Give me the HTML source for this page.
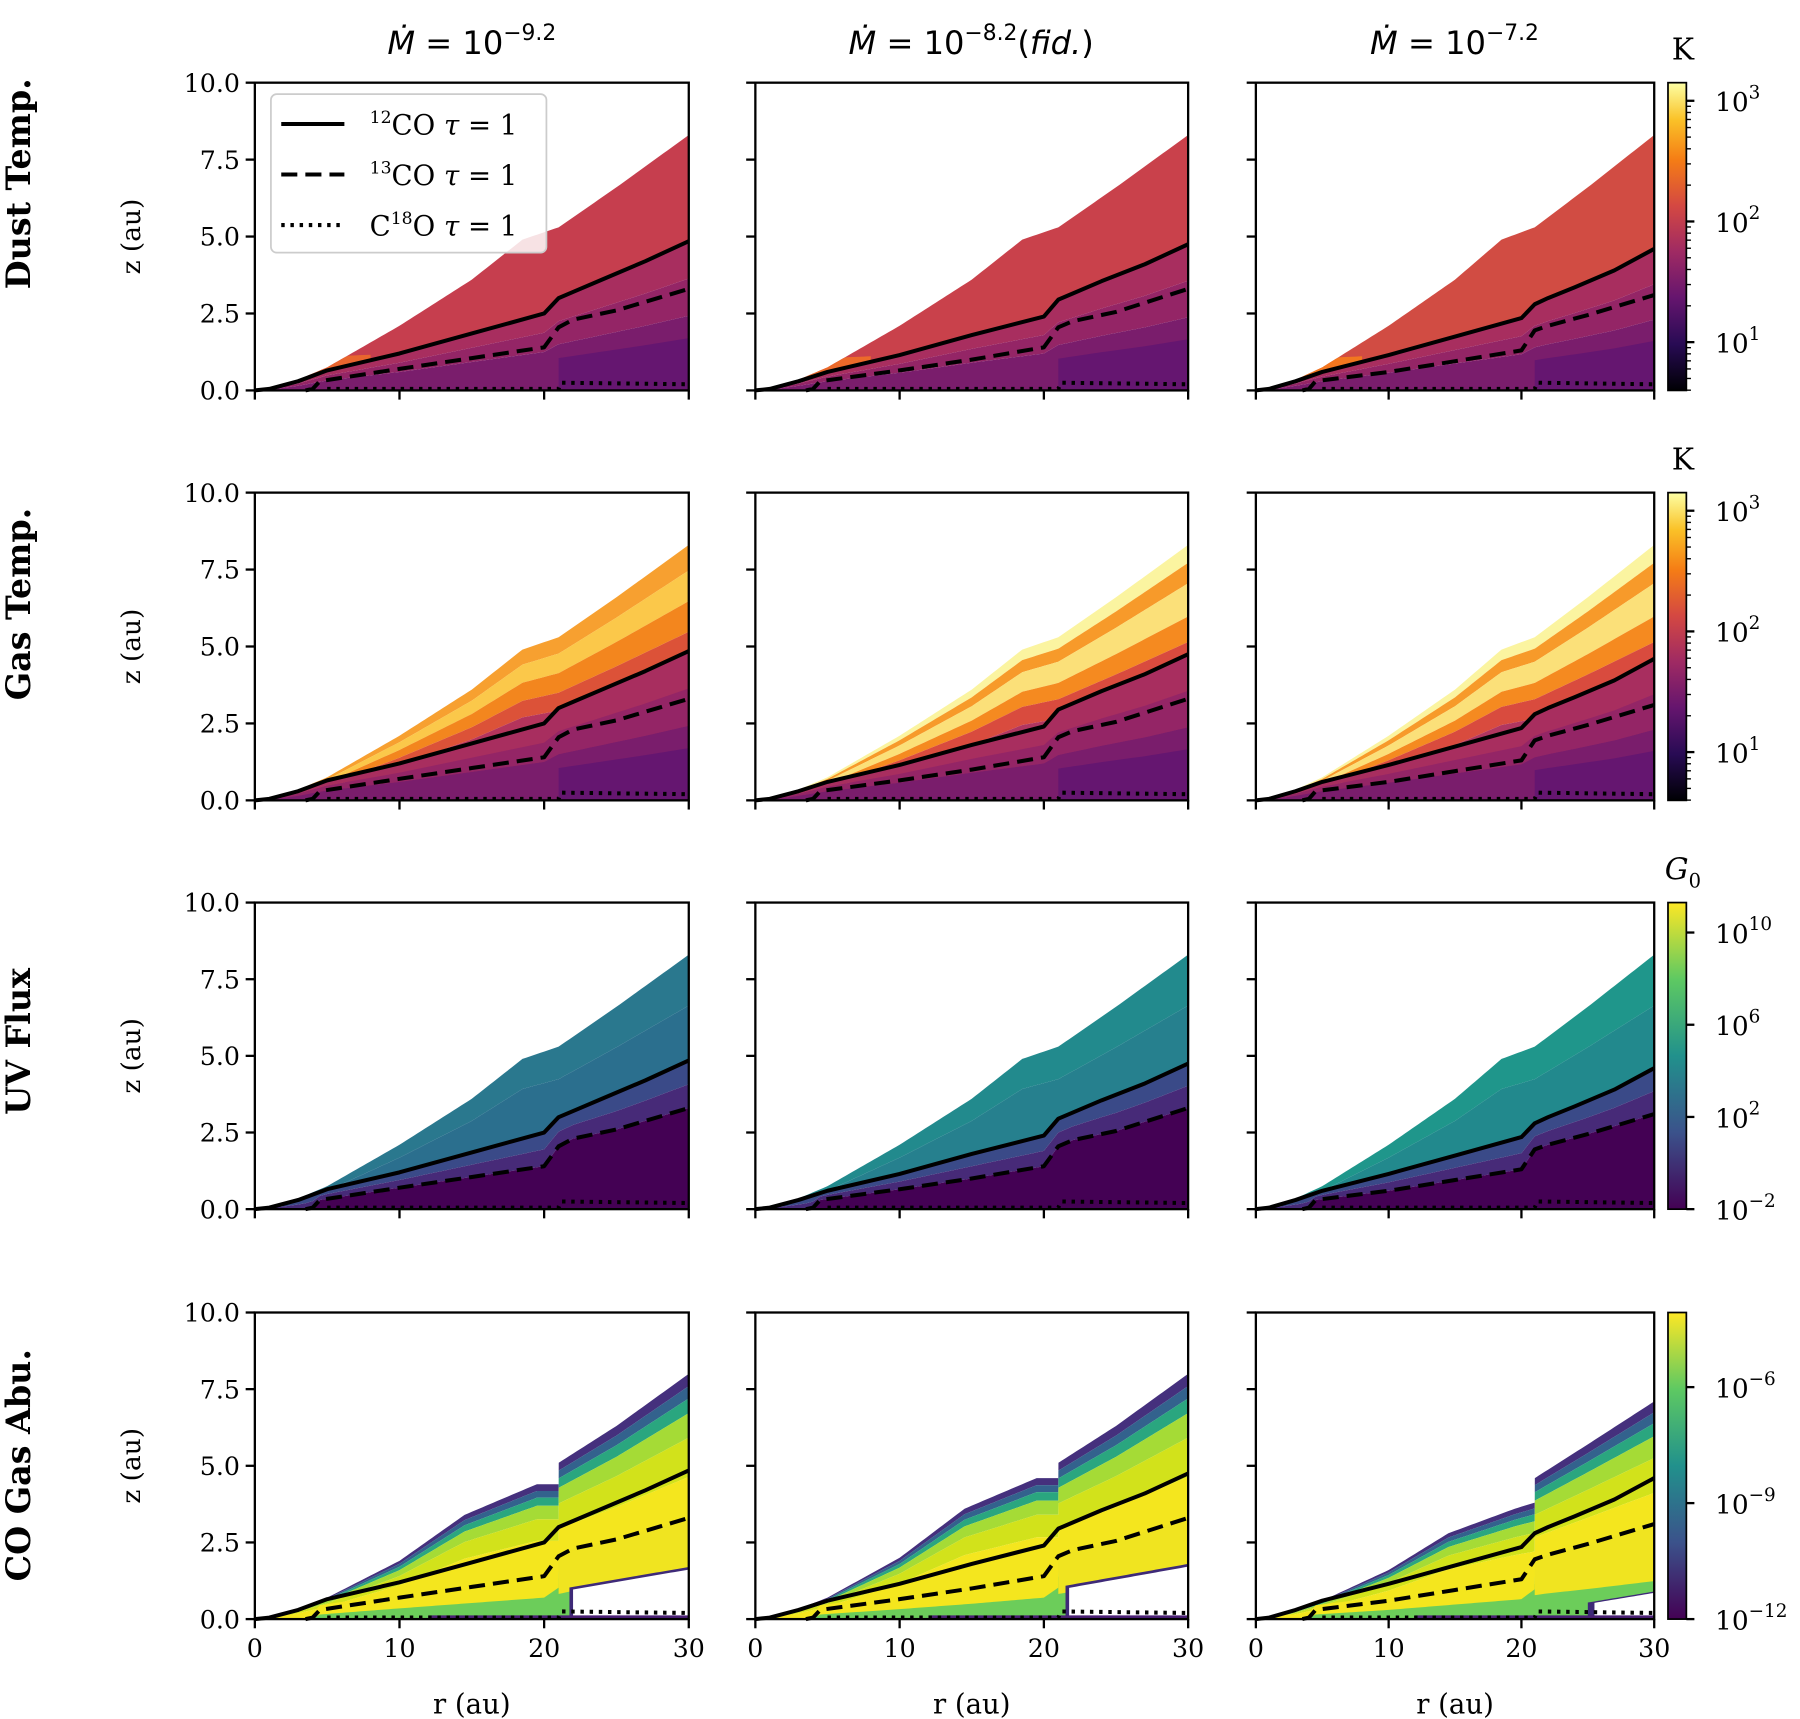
<!DOCTYPE html>
<html><head><meta charset="utf-8"><style>
html,body{margin:0;padding:0;background:#fff;}
svg{display:block;font-family:"DejaVu Serif","Liberation Serif",serif;}
</style></head><body>
<svg id="fig" xmlns="http://www.w3.org/2000/svg" width="1800" height="1719" viewBox="0 0 1568 1497" preserveAspectRatio="none">
<defs>
<linearGradient id="inferno" x1="0" y1="1" x2="0" y2="0">
<stop offset="0" stop-color="#000004"/><stop offset="0.15" stop-color="#280b54"/><stop offset="0.3" stop-color="#65156e"/><stop offset="0.45" stop-color="#9f2a63"/><stop offset="0.6" stop-color="#d44842"/><stop offset="0.75" stop-color="#f57d15"/><stop offset="0.88" stop-color="#fac228"/><stop offset="1" stop-color="#fcffa4"/></linearGradient>
<linearGradient id="viridis" x1="0" y1="1" x2="0" y2="0">
<stop offset="0" stop-color="#440154"/><stop offset="0.25" stop-color="#3b528b"/><stop offset="0.5" stop-color="#21918c"/><stop offset="0.75" stop-color="#5ec962"/><stop offset="1" stop-color="#fde725"/></linearGradient>
</defs>
</svg>
<script>
// ---- data ----
const rTicks=[0,10,20,30];
const zTicks=[0,2.5,5,7.5,10];
const zTickLabels=['0.0','2.5','5.0','7.5','10.0'];
const colTitles=['−9.2','−8.2','−7.2'];
const rowTitles=['Dust Temp.','Gas Temp.','UV Flux','CO Gas Abu.'];
// disk surface (rows 1-3)
const surfR=[0,2,5,10,15,18.5,21,25,30];
const surfZ=[0,0.15,0.75,2.1,3.6,4.9,5.3,6.6,8.3];
// CO abundance surface per column
const coSurfR=[0,2,5,10,14.5,19.5,21,21.01,25,30];
const coSurfZ1=[0,0.15,0.7,1.9,3.4,4.4,4.4,5.1,6.3,8.0];
const coSurfZ2=[0,0.15,0.7,2.0,3.6,4.6,4.6,5.1,6.3,8.0];
const coSurfZ3=[0,0.12,0.6,1.6,2.8,3.6,3.8,4.6,5.7,7.1];
// tau=1 lines per column
const t12R=[0,1,3,5,10,15,20,21,22,24,27,30];
const t12Z1=[0,0.05,0.3,0.65,1.2,1.85,2.5,3.0,3.2,3.6,4.2,4.85];
const t12Z2=[0,0.05,0.3,0.6,1.15,1.8,2.4,2.95,3.15,3.55,4.1,4.75];
const t12Z3=[0,0.05,0.3,0.6,1.15,1.75,2.35,2.8,3.0,3.35,3.9,4.6];
const t13R=[3.5,4,4.5,10,15,20,21,22,25,30];
const t13Z1=[0,0.05,0.3,0.7,1.05,1.4,2.05,2.3,2.6,3.3];
const t13Z2=[0,0.05,0.3,0.65,1.0,1.4,2.05,2.25,2.55,3.3];
const t13Z3=[0,0.05,0.3,0.6,0.95,1.3,1.95,2.1,2.45,3.1];
const c18R=[5,21,21.2,30];
const c18Z=[0.05,0.05,0.25,0.2];
// colorbars
const cbTempTicks=[1,2,3]; const cbTempMin=0.6, cbTempMax=3.15;
const cbUVTicks=[-2,2,6,10]; const cbUVMin=-2, cbUVMax=11.3;
const cbCOTicks=[-12,-9,-6]; const cbCOMin=-12, cbCOMax=-4.07;

// ---- layout ----
const colX=[[222,600],[658,1035],[1094,1441]];
const rowY=[[72,340],[429,697],[786,1053],[1143,1410]];
const rowTitleY=[160,526,907,1276];
const NS='http://www.w3.org/2000/svg';
const svg=document.getElementById('fig');
function el(tag,attrs,parent){const e=document.createElementNS(NS,tag);for(const k in attrs)e.setAttribute(k,attrs[k]);(parent||svg).appendChild(e);return e;}
function interp(xs,ys,x){if(x<=xs[0])return ys[0];for(let i=1;i<xs.length;i++){if(x<=xs[i]){const t=(x-xs[i-1])/(xs[i]-xs[i-1]||1);return ys[i-1]+t*(ys[i]-ys[i-1]);}}return ys[ys.length-1];}
function sx(c,r){const[a,b]=colX[c];return a+(b-a)*r/30;}
function sy(row,z){const[a,b]=rowY[row];return b-(b-a)*z/10;}
function rs(){const o=[];for(let r=0;r<=30.001;r+=0.25)o.push(+r.toFixed(2));[20,21,21.01,21.2].forEach(v=>o.push(v));return o.sort((a,b)=>a-b);}
const RS=rs();
function band(row,c,top,bot,fill,g,rmin,rmax){
  rmin=rmin||0;rmax=rmax===undefined?30:rmax;
  const pts=[];const R=RS.filter(r=>r>=rmin&&r<=rmax);
  R.forEach(r=>pts.push(sx(c,r)+','+sy(row,top(r))));
  R.slice().reverse().forEach(r=>pts.push(sx(c,r)+','+sy(row,bot(r))));
  const p=el('polygon',{points:pts.join(' '),fill:fill},g);
  
  
  return p;
}
function line(row,c,xs,ys,dash,g,name){
  const pts=xs.map((r,i)=>sx(c,r)+','+sy(row,ys[i])).join(' ');
  const p=el('polyline',{points:pts,fill:'none',stroke:'#000','stroke-width':3.5,'stroke-dasharray':dash,'stroke-linejoin':'round'},g);
  
  
}
const t12=[t12Z1,t12Z2,t12Z3], t13=[t13Z1,t13Z2,t13Z3], coS=[coSurfZ1,coSurfZ2,coSurfZ3];
const S=r=>interp(surfR,surfZ,r);

for(let row=0;row<4;row++){
 for(let c=0;c<3;c++){
  const g=el('g',{});
  
  
  const T12=r=>interp(t12R,t12[c],r);
  const T13=r=>r<3.5?0:interp(t13R,t13[c],r);
  const zero=r=>0;
  if(row===0){
    const top=['#c63e4e','#c9414b','#d14c43'][c];
    const hot=['#e8652e','#ec6a2a','#f2771f'][c];
    band(row,c,S,T12,top,g);
    band(row,c,r=>Math.min(S(r),T12(r)+0.9*(1-r/10)),T12,hot,g,0,8);
    band(row,c,T12,r=>T12(r)*0.75,'#a82e5f',g);
    band(row,c,r=>T12(r)*0.75,r=>T12(r)*0.5,'#942566',g);
    band(row,c,r=>T12(r)*0.5,zero,'#7a1d6c',g);
    band(row,c,r=>T12(r)*0.35,zero,'#651670',g,21,30);
  } else if(row===1){
    const bands=c===0?
      [[0.9,1,'#f7a030'],[0.78,0.9,'#fbc84a'],[0.66,0.78,'#f3861e'],[0.55,0.66,'#dc5238'],[0,0.55,'#b4345c']]:
      [[0.93,1,'#fbf4a0'],[0.85,0.93,'#f79a2a'],[0.72,0.85,'#fbe079'],[0.62,0.72,'#f58a20'],[0.5,0.62,'#d94b3e'],[0,0.5,'#b03660']];
    bands.forEach(b=>band(row,c,r=>S(r)*b[1],r=>S(r)*b[0],b[2],g));
    band(row,c,T12,r=>T12(r)*0.75,'#a82e5f',g);
    band(row,c,r=>T12(r)*0.75,r=>T12(r)*0.5,'#942566',g);
    band(row,c,r=>T12(r)*0.5,zero,'#7a1d6c',g);
    band(row,c,r=>T12(r)*0.35,zero,'#651670',g,21,30);
  } else if(row===2){
    const top=['#2b6f8e','#26808e','#22898d'][c];
    band(row,c,S,r=>Math.max(T12(r),S(r)*0.8),['#2a788e','#228a8d','#1f968b'][c],g);
    band(row,c,r=>Math.max(T12(r),S(r)*0.8),T12,top,g);
    band(row,c,T12,r=>(T12(r)+T13(r))/2,'#3a4a88',g);
    band(row,c,r=>(T12(r)+T13(r))/2,T13,'#472a78',g);
    band(row,c,T13,zero,'#440154',g);
  } else {
    const CS=r=>interp(coSurfR,coS[c],r);
    const bands=[[0.95,1,'#45307d'],[0.9,0.95,'#33628d'],[0.84,0.9,'#2aa67f'],[0.74,0.84,'#a5db36'],[0.58,0.74,'#d2e21b'],[0.3,0.58,'#f4e61e'],[0,0.3,'#6ccd5a']];
    bands.forEach(b=>band(row,c,r=>CS(r)*b[1],r=>CS(r)*b[0],b[2],g));
    band(row,c,r=>Math.min(CS(r),T13(r)+0.15),r=>T13(r)*0.5,'#f4e61e',g,0,21);
    band(row,c,r=>Math.min(CS(r),T13(r)),r=>T13(r)*0.4,'#f0e420',g,21,30);
    const holeTop=[1.7,1.8,0.9][c], hs=[21.6,21.4,25][c];
    band(row,c,r=>holeTop*0.6+holeTop*0.4*(r-hs)/(30-hs),zero,'#3e2a78',g,hs,30);
    band(row,c,r=>holeTop*0.55+holeTop*0.4*(r-hs)/(30-hs),r=>0.05,'#ffffff',g,hs+0.3,30);
    band(row,c,r=>0.12,zero,'#4a1f74',g,12,30);
  }
  // tau lines
  line(row,c,t12R,t12[c],'none',g,'co12-tau-line');
  line(row,c,t13R,t13[c],'14,7',g,'co13-tau-line');
  line(row,c,c18R,c18Z,'3,5',g,'c18o-tau-line');
  // axes frame
  const [x0,x1]=colX[c],[y0,y1]=rowY[row];
  const f=el('rect',{x:x0,y:y0,width:x1-x0,height:y1-y0,fill:'none',stroke:'#000','stroke-width':2},g);
  
  
  zTicks.forEach((z,i)=>{
    el('line',{x1:x0-8,x2:x0,y1:sy(row,z),y2:sy(row,z),stroke:'#000','stroke-width':2},g);
    if(c===0){const t=el('text',{x:x0-13,y:sy(row,z)+8,'text-anchor':'end','font-size':22},g);t.textContent=zTickLabels[i];
      }
  });
  rTicks.forEach(r=>{
    el('line',{x1:sx(c,r),x2:sx(c,r),y1:y1,y2:y1+8,stroke:'#000','stroke-width':2},g);
    if(row===3){const t=el('text',{x:sx(c,r),y:y1+33,'text-anchor':'middle','font-size':22},g);t.textContent=r;
      }
  });
  if(row===3){const t=el('text',{x:(x0+x1)/2,y:1492,'text-anchor':'middle','font-size':24},g);t.textContent='r (au)';
    }
 }
 // row labels
 const yc=(rowY[row][0]+rowY[row][1])/2;
 const rt=el('text',{transform:'translate(26,'+rowTitleY[row]+') rotate(-90)','text-anchor':'middle','font-size':29,'font-weight':'bold','font-family':'DejaVu Serif,Liberation Serif,serif'});
 rt.textContent=rowTitles[row];
 
 const zt=el('text',{transform:'translate(122,'+yc+') rotate(-90)','text-anchor':'middle','font-size':23});
 zt.textContent='z (au)';
 
 // colorbar
 const [cy0,cy1]=rowY[row];
 const cb=el('rect',{x:1453,y:cy0,width:16,height:cy1-cy0,fill:row<2?'url(#inferno)':'url(#viridis)',stroke:'#000','stroke-width':1.5});
 
 let ticks,mn,mx;
 if(row<2){ticks=cbTempTicks;mn=cbTempMin;mx=cbTempMax;}else if(row===2){ticks=cbUVTicks;mn=cbUVMin;mx=cbUVMax;}else{ticks=cbCOTicks;mn=cbCOMin;mx=cbCOMax;}
 const cby=v=>cy1-(cy1-cy0)*(v-mn)/(mx-mn);
 if(row<2){for(let d=0;d<4;d++)for(let m=2;m<10;m++){const v=d+Math.log10(m);if(v>mn&&v<mx)el('line',{x1:1469,x2:1473,y1:cby(v),y2:cby(v),stroke:'#000','stroke-width':1.2});}}
 ticks.forEach(v=>{
  el('line',{x1:1469,x2:1476,y1:cby(v),y2:cby(v),stroke:'#000','stroke-width':2});
  const t=el('text',{x:1494,y:cby(v)+9,'font-size':23});
  t.textContent='10';
  const s=el('tspan',{dy:-11,'font-size':16},t);s.textContent=(v<0?'−'+(-v):v);
  
 });
 const u=el('text',{x:1466,y:cy0-20,'text-anchor':'middle','font-size':26});
 if(row===2){const i=el('tspan',{'font-style':'italic'},u);i.textContent='G';const s=el('tspan',{dy:7,'font-size':17},u);s.textContent='0';}
 else if(row<2){u.textContent='K';}
 
}
// column titles
[411,846,1267].forEach((x,i)=>{
 const t=el('text',{x:x,y:47,'text-anchor':'middle','font-size':28,'font-family':'DejaVu Sans,Liberation Sans,sans-serif'});
 const m=el('tspan',{'font-style':'italic'},t);m.textContent='Ṁ';
 const a=el('tspan',{},t);a.textContent=' = 10';
 const s=el('tspan',{dy:-12,'font-size':19},t);s.textContent=colTitles[i];
 if(i===1){const f=el('tspan',{dy:12},t);f.textContent='(';const fi=el('tspan',{'font-style':'italic'},t);fi.textContent='fid.';const f2=el('tspan',{},t);f2.textContent=')';}
 
});
// legend
const lg=el('g',{});

el('rect',{x:236,y:82,width:240,height:138,rx:5,fill:'#fff','fill-opacity':0.85,stroke:'#ccc','stroke-width':1.5},lg);
const legItems=[['none','12','CO'],['14,7','13','CO'],['3,5','C','18']];
legItems.forEach((it,i)=>{
 const y=108+i*44;
 el('line',{x1:245,x2:300,y1:y,y2:y,stroke:'#000','stroke-width':3.5,'stroke-dasharray':it[0]},lg);
 const t=el('text',{x:322,y:y+9,'font-size':24},lg);
 if(i<2){const s=el('tspan',{dy:-10,'font-size':15},t);s.textContent=it[1];const a=el('tspan',{dy:10},t);a.textContent='CO ';}
 else{const a=el('tspan',{},t);a.textContent='C';const s=el('tspan',{dy:-10,'font-size':15},t);s.textContent='18';const b=el('tspan',{dy:10},t);b.textContent='O ';}
 const tau=el('tspan',{'font-style':'italic'},t);tau.textContent='τ';
 const e=el('tspan',{},t);e.textContent=' = 1';
 
});
</script>
</body></html>
